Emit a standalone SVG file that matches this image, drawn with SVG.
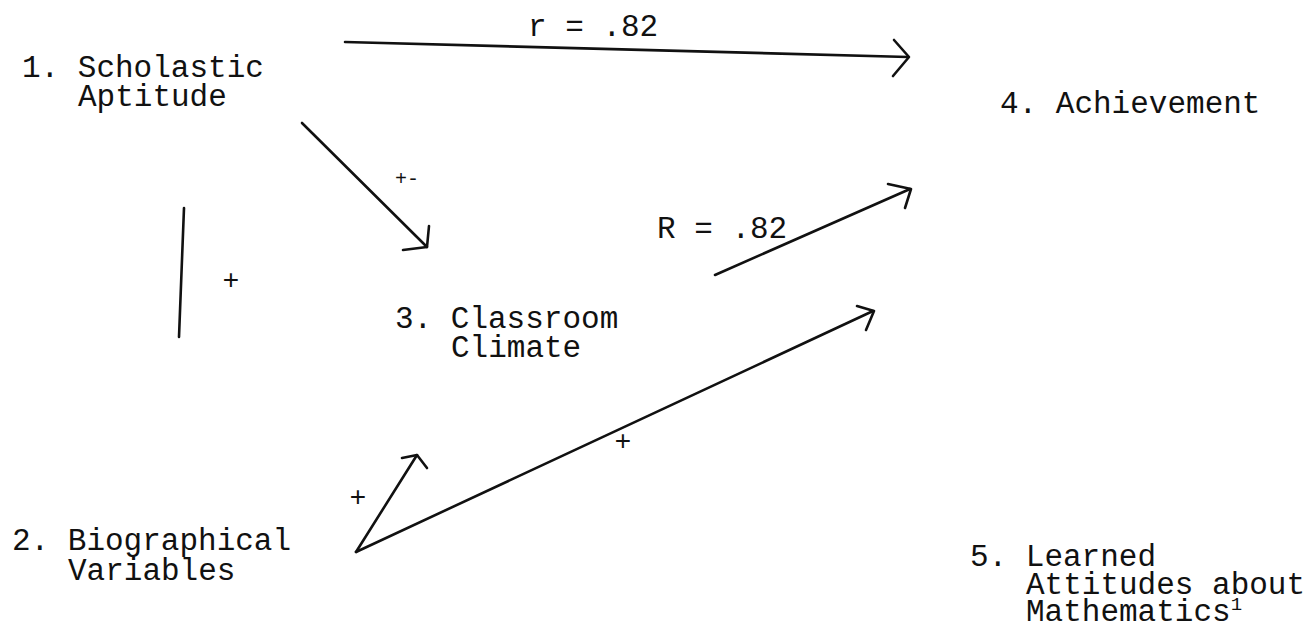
<svg xmlns="http://www.w3.org/2000/svg" width="1316" height="635" viewBox="0 0 1316 635">
<style>
  .t { font-family: "Liberation Mono", "Courier New", monospace; font-size: 31px; fill: #111; }
  .p { font-family: "Liberation Mono", "Courier New", monospace; font-size: 28px; fill: #111; text-anchor: middle; }
  .c { fill: none; stroke: #111; stroke-width: 2.6; stroke-linecap: round; stroke-linejoin: round; }
</style>
<rect width="1316" height="635" fill="#fff"/>
<g id="node1">
  <text class="t" x="22" y="77">1. Scholastic</text>
  <text class="t" x="78" y="106">Aptitude</text>
</g>
<g id="node2">
  <text class="t" x="12" y="550">2. Biographical</text>
  <text class="t" x="68" y="580">Variables</text>
</g>
<g id="node3">
  <text class="t" x="395" y="328">3. Classroom</text>
  <text class="t" x="451" y="357">Climate</text>
</g>
<g id="node4">
  <text class="t" x="1000" y="113">4. Achievement</text>
</g>
<g id="node5">
  <text class="t" x="970" y="566">5. Learned</text>
  <text class="t" x="1026" y="594">Attitudes about</text>
  <text class="t" x="1026" y="621">Mathematics<tspan dy="-11" style="font-size:19px">1</tspan></text>
</g>
<g id="connectors">
  <path class="c" d="M345,42 L908,57"/>
  <path class="c" d="M894,40 L909,57 L893,76"/>
  <path class="c" d="M302,123 L427,247"/>
  <path class="c" d="M429,226 L427,247 L403,250"/>
  <path class="c" d="M184,208 L179,337"/>
  <path class="c" d="M715,275 L910,189"/>
  <path class="c" d="M888,184 L911,189 L905,208"/>
  <path class="c" d="M356,552 L417,455"/>
  <path class="c" d="M402,458 L417,455 L427,468"/>
  <path class="c" d="M356,552 L873,311"/>
  <path class="c" d="M857,306 L874,311 L866,330"/>
</g>
<g id="labels">
  <text class="t" x="528" y="36">r = .82</text>
  <text class="t" x="657" y="238">R = .82</text>
  <text class="p" x="407" y="185" style="font-size:20px">+-</text>
  <text class="p" x="231" y="289">+</text>
  <text class="p" x="358" y="506">+</text>
  <text class="p" x="623" y="450">+</text>
</g>
</svg>
